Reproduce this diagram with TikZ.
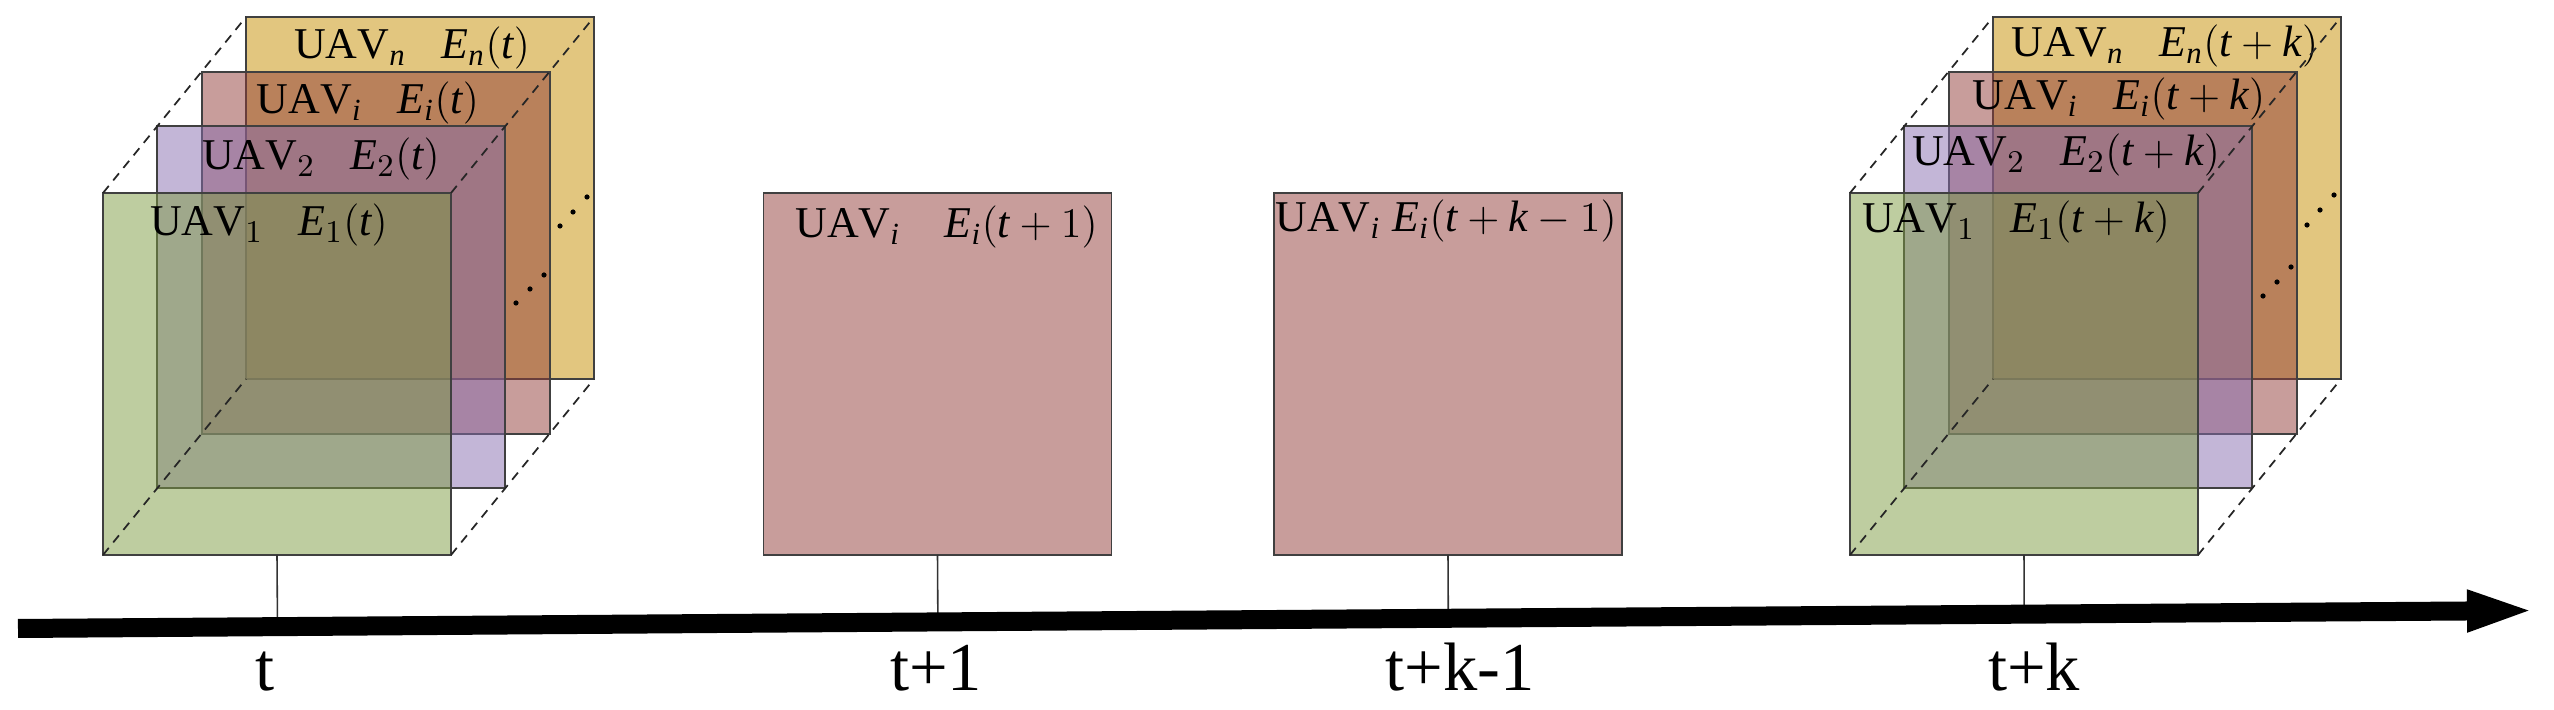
\documentclass[tikz,border=0pt]{standalone}
\usepackage{fontspec}
\setmainfont{Liberation Serif}
\usetikzlibrary{arrows.meta,calc}

\definecolor{lyrGreen}{RGB}{125,155,65}
\definecolor{lyrPurple}{RGB}{135,109,175}
\definecolor{lyrRed}{RGB}{145,60,56}
\definecolor{lyrYellow}{RGB}{197,141,0}

\tikzset{
  uavplane/.style={draw=black!75, line width=0.5pt, fill opacity=0.5,
    minimum width=3.48cm, minimum height=3.62cm, inner sep=0pt, outer sep=0pt},
  uavtxt/.style={anchor=base, inner sep=0pt, font=\fontsize{12.5}{15}\selectfont},
  depthline/.style={black!85, line width=0.5pt, dash pattern=on 2.6pt off 2pt},
  tickline/.style={black!80, line width=0.45pt},
  timeaxis/.style={line width=0.19cm, -{Triangle[length=0.69cm,width=0.37cm]}},
  timelbl/.style={anchor=base, inner sep=0pt, font=\fontsize{19.5}{23}\selectfont},
}
\newcommand{\uavlbl}[2]{$\mathrm{UAV}_{#1}\hspace{0.8em}\mathit{E}_{#1}(#2)$}

\begin{document}
\begin{tikzpicture}
  \useasboundingbox (0,0) rectangle (25.54,7.10);
  % stack at t
  \coordinate (c0) at (2.77,3.36);
  \node[uavplane, fill=lyrYellow] (y0) at ([shift={(1.43,1.76)}]c0) {};
  \node[uavtxt] (ty0) at ([shift={(-0.08,-0.42)}]y0.north) {\uavlbl{\mathit{n}}{\mathit{t}}};
  \node[uavplane, fill=lyrRed] (r0) at ([shift={(0.99,1.21)}]c0) {};
  \node[uavtxt] (tr0) at ([shift={(-0.08,-0.42)}]r0.north) {\uavlbl{\mathit{i}}{\mathit{t}}};
  \node[uavplane, fill=lyrPurple] (p0) at ([shift={(0.54,0.67)}]c0) {};
  \node[uavtxt] (tp0) at ([shift={(-0.1,-0.44)}]p0.north) {\uavlbl{2}{\mathit{t}}};
  \node[uavplane, fill=lyrGreen] (g0) at (c0) {};
  \node[uavtxt] (tg0) at ([shift={(-0.08,-0.43)}]g0.north) {\uavlbl{1}{\mathit{t}}};
  \foreach \a in {north west,north east,south west,south east}
    \draw[depthline] (g0.\a) -- (y0.\a);
  \foreach \x/\y in {2.39/0.71,2.53/0.85,2.67/0.99,2.83/1.48,2.96/1.62,3.10/1.77}
    \fill ([shift={(\x,\y)}]c0) circle (0.026);

  % single planes
  \node[uavplane, fill=lyrRed] (m1) at (9.375,3.36) {};
  \node[uavtxt] (tm1) at ([shift={(0.09,-0.45)}]m1.north) {$\mathrm{UAV}_{\mathit{i}}\quad\mathit{E}_{\mathit{i}}(\mathit{t}+1)$};
  \node[uavplane, fill=lyrRed] (m2) at (14.48,3.36) {};
  \node[uavtxt] (tm2) at ([shift={(-0.02,-0.39)}]m2.north) {$\mathrm{UAV}_{\mathit{i}}\;\mathit{E}_{\mathit{i}}(\mathit{t}+\mathit{k}-1)$};

  % stack at t+k
  \coordinate (c1) at (20.24,3.36);
  \node[uavplane, fill=lyrYellow] (y1) at ([shift={(1.43,1.76)}]c1) {};
  \node[uavtxt] (ty1) at ([shift={(-0.02,-0.40)}]y1.north) {\uavlbl{\mathit{n}}{\mathit{t}+\mathit{k}}};
  \node[uavplane, fill=lyrRed] (r1) at ([shift={(0.99,1.21)}]c1) {};
  \node[uavtxt] (tr1) at ([shift={(-0.04,-0.38)}]r1.north) {\uavlbl{\mathit{i}}{\mathit{t}+\mathit{k}}};
  \node[uavplane, fill=lyrPurple] (p1) at ([shift={(0.54,0.67)}]c1) {};
  \node[uavtxt] (tp1) at ([shift={(-0.12,-0.40)}]p1.north) {\uavlbl{2}{\mathit{t}+\mathit{k}}};
  \node[uavplane, fill=lyrGreen] (g1) at (c1) {};
  \node[uavtxt] (tg1) at ([shift={(-0.08,-0.40)}]g1.north) {\uavlbl{1}{\mathit{t}+\mathit{k}}};
  \foreach \a in {north west,north east,south west,south east}
    \draw[depthline] (g1.\a) -- (y1.\a);
  \foreach \x/\y in {2.39/0.78,2.53/0.92,2.67/1.07,2.83/1.49,2.96/1.64,3.10/1.79}
    \fill ([shift={(\x,\y)}]c1) circle (0.026);

  % time axis
  \coordinate (aL) at (0.18,0.815);
  \coordinate (aR) at (25.36,0.995);
  \foreach \b in {g0,m1,m2,g1}
    \draw[tickline] (\b.south) -- ($(aL)!(\b.south)!(aR)$);
  \draw[timeaxis] (aL) -- (aR);
  \node[timelbl] (lt0) at (2.65,0.20) {t};
  \node[timelbl] (lt1) at (9.36,0.20) {t+1};
  \node[timelbl] (lt2) at (14.60,0.20) {t+k-1};
  \node[timelbl] (lt3) at (20.34,0.20) {t+k};
\end{tikzpicture}
\end{document}
